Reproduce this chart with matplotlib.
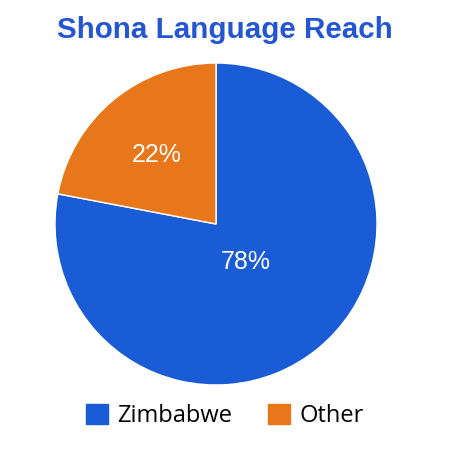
import matplotlib
matplotlib.use("Agg")
import numpy as np
import matplotlib.pyplot as plt
from matplotlib.patches import Patch

categories = ["Zimbabwe", "Other"]
values = [78, 22]
colors = ["#1a5cd6", "#e8761a"]
title = "Shona Language Reach"
label_radius = [0.29, 0.58]

fig = plt.figure(figsize=(4.5, 4.5), dpi=100)
ax = fig.add_axes([55/450, (450-224-161)/450, 322/450, 322/450])
wedges, texts = ax.pie(
    values, colors=colors, startangle=90, counterclock=False,
    wedgeprops=dict(edgecolor="white", linewidth=1),
)
total = sum(values)
for w, v, r in zip(wedges, values, label_radius):
    ang = np.deg2rad((w.theta1 + w.theta2) / 2)
    ax.text(r * np.cos(ang), r * np.sin(ang), f"{v / total * 100:.0f}%",
            ha="center", va="center_baseline", color="white", fontsize=18,
            family="Liberation Sans")
ax.set_aspect("equal")
ax.set_xlim(-1, 1)
ax.set_ylim(-1, 1)

fig.text(225/450, 1 - 30/450, title, ha="center", va="center",
         fontsize=21.3, fontweight="bold", color="#2456d3",
         family="Liberation Sans")

handles = [Patch(facecolor=c, edgecolor=c) for c in colors]
fig.legend(handles, categories, loc="center", bbox_to_anchor=(225/450, 1 - 416/450),
           ncol=2, frameon=False, handlelength=0.95, handleheight=0.95,
           handletextpad=0.4, columnspacing=1.5, prop=dict(family="Open Sans", size=17))

fig.savefig("out.png", dpi=100)
